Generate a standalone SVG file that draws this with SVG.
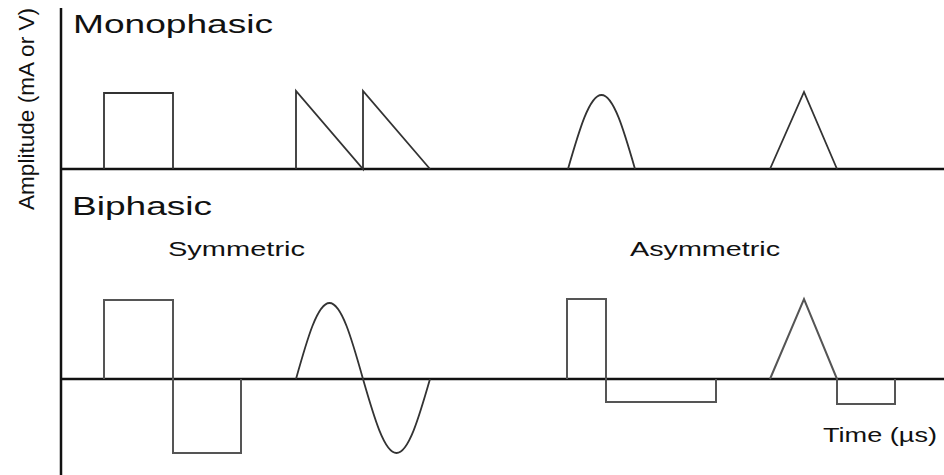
<svg xmlns="http://www.w3.org/2000/svg" width="944" height="475" viewBox="0 0 944 475">
<style>
.axis{stroke:#111;stroke-width:2.5;fill:none}
.wave{stroke:#333;stroke-width:1.8;fill:none;stroke-linejoin:miter}
.wave2{stroke:#555;stroke-width:2;fill:none;stroke-linejoin:miter}
.t{font-family:"Liberation Sans",Arial,sans-serif;fill:#111}
</style>
<rect width="944" height="475" fill="#fff"/>
<g id="axes">
<line class="axis" x1="61" y1="8" x2="61" y2="475"/>
<line class="axis" x1="60" y1="169" x2="944" y2="169"/>
<line class="axis" x1="60" y1="379" x2="944" y2="379"/>
</g>
<g id="labels">
<text class="t" x="73" y="33" font-size="26" textLength="200" lengthAdjust="spacingAndGlyphs">Monophasic</text>
<text class="t" x="72" y="215" font-size="26" textLength="140" lengthAdjust="spacingAndGlyphs">Biphasic</text>
<text class="t" x="168" y="256" font-size="21" textLength="137" lengthAdjust="spacingAndGlyphs">Symmetric</text>
<text class="t" x="630" y="256" font-size="21" textLength="150" lengthAdjust="spacingAndGlyphs">Asymmetric</text>
<text class="t" x="823" y="442" font-size="20" textLength="114" lengthAdjust="spacingAndGlyphs">Time (µs)</text>
<text class="t" transform="translate(34,109) rotate(-90)" text-anchor="middle" font-size="22" textLength="202" lengthAdjust="spacingAndGlyphs">Amplitude (mA or V)</text>
</g>
<g id="mono-square"><path class="wave" d="M104,169 V93 H173 V169"/></g>
<g id="mono-sawtooth"><path class="wave" d="M296,169 V91 L363,169 V91 L430,169"/></g>
<g id="mono-halfsine"><path class="wave" d="M568,169 C579.2,130.2 589.45,95 601.5,95 C613.55,95 623.8,130.2 635,169"/></g>
<g id="mono-triangle"><path class="wave" d="M770,169 L804,92 L837,169"/></g>
<g id="bi-sym-square"><path class="wave2" d="M104,379 V300 H173 V453 H241 V379"/></g>
<g id="bi-sym-sine"><path class="wave" d="M296,379 C307.2,339.1 317.45,303 329.5,303 C341.55,303 351.8,339.1 363,379 C374.2,417.9 384.45,453 396.5,453 C408.55,453 418.8,417.9 430,379"/></g>
<g id="bi-asym-square"><path class="wave2" d="M567,379 V299 H606 V402 H716 V379"/></g>
<g id="bi-asym-triangle"><path class="wave2" d="M770,379 L804,299 L837,379 V404 H895 V379"/></g>
</svg>
